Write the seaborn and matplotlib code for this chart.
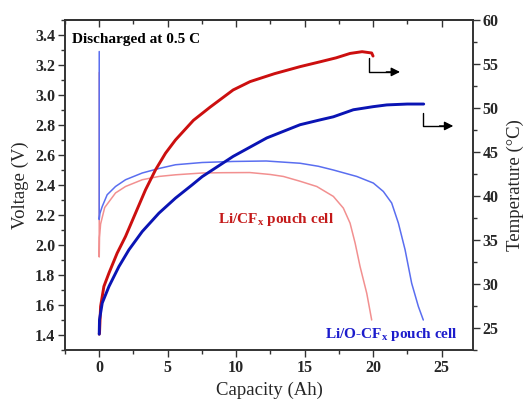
import matplotlib
matplotlib.use("Agg")
import matplotlib.pyplot as plt
import seaborn as sns
from matplotlib.ticker import MultipleLocator

# ---------------- data ----------------
# Voltage profiles (left axis)
cap_cfx_v = [0, 0, 0.02, 0.1, 0.4, 1.19, 1.92, 3.14, 4.36, 5.57, 7.52, 9.0, 11.0, 12.5, 13.45,
             14.67, 15.89, 17.1, 17.83, 18.32, 18.69, 19.05, 19.54, 19.9]
volt_cfx = [3.15, 1.92, 2.05, 2.14, 2.25, 2.347, 2.39, 2.435, 2.457, 2.468, 2.48, 2.482, 2.483, 2.47, 2.457,
            2.425, 2.39, 2.324, 2.246, 2.146, 2.013, 1.857, 1.678, 1.50]

cap_ocfx_v = [0, 0, 0.05, 0.22, 0.58, 1.19, 1.92, 3.14, 4.36, 5.57, 7.52, 9.8, 12.2, 14.67, 16.0,
              17.1, 18.81, 20.02, 20.75, 21.36, 21.85, 22.34, 22.82, 23.31, 23.67]
volt_ocfx = [3.29, 2.17, 2.21, 2.257, 2.335, 2.39, 2.435, 2.48, 2.51, 2.535, 2.55, 2.557, 2.56, 2.545, 2.525,
             2.50, 2.457, 2.413, 2.357, 2.28, 2.146, 1.968, 1.745, 1.59, 1.50]

# Temperature profiles (right axis)
cap_cfx_t = [0, 0.02, 0.1, 0.34, 0.71, 1.31, 1.92, 2.65, 3.38, 4.11, 4.84, 5.57, 6.88, 8.1, 9.78,
             11.02, 12.8, 14.67, 16.13, 17.3, 18.32, 19.2, 19.9, 20.0]
temp_cfx = [24.3, 24.43, 27.45, 29.72, 31.24, 33.51, 35.40, 38.05, 40.70, 42.97, 44.86, 46.37, 48.6, 50.1, 52.05,
            53.0, 53.9, 54.7, 55.25, 55.7, 56.2, 56.4, 56.25, 55.9]

cap_ocfx_t = [0, 0.02, 0.22, 0.71, 1.44, 2.17, 3.14, 4.36, 5.57, 6.79, 7.52, 9.78, 12.24, 14.67, 16.13,
              17.1, 18.56, 20.0, 21.0, 22.5, 23.7]
temp_ocfx = [24.3, 25.94, 27.84, 29.72, 31.99, 33.89, 35.96, 38.05, 39.76, 41.27, 42.2, 44.5, 46.6, 48.1, 48.65,
             49.0, 49.8, 50.15, 50.35, 50.45, 50.45]

x_ticks = [0, 5, 10, 15, 20, 25]
v_ticks = [1.4, 1.6, 1.8, 2.0, 2.2, 2.4, 2.6, 2.8, 3.0, 3.2, 3.4]
t_ticks = [25, 30, 35, 40, 45, 50, 55, 60]

# ---------------- style ----------------
sns.set_style("ticks")
plt.rcParams["font.family"] = ["Liberation Serif", "DejaVu Serif"]
plt.rcParams["mathtext.fontset"] = "custom"
plt.rcParams["mathtext.rm"] = "Liberation Serif"
plt.rcParams["mathtext.bf"] = "Liberation Serif:bold"
plt.rcParams["mathtext.it"] = "Liberation Serif:italic"

fig = plt.figure(figsize=(5.31, 3.99), dpi=100)
ax = fig.add_axes([65 / 531, 49 / 399, 408 / 531, 330 / 399])
ax2 = ax.twinx()

c_red_thin = "#f29090"
c_blue_thin = "#5a6ef0"
c_red = "#cc0f0f"
c_blue = "#0a14b4"

sns.lineplot(x=cap_cfx_v, y=volt_cfx, ax=ax, sort=False, estimator=None,
             color=c_red_thin, linewidth=1.1)
sns.lineplot(x=cap_ocfx_v, y=volt_ocfx, ax=ax, sort=False, estimator=None,
             color=c_blue_thin, linewidth=1.1)
sns.lineplot(x=cap_cfx_t, y=temp_cfx, ax=ax2, sort=False, estimator=None,
             color=c_red, linewidth=2.1)
sns.lineplot(x=cap_ocfx_t, y=temp_ocfx, ax=ax2, sort=False, estimator=None,
             color=c_blue, linewidth=2.1)
for line in ax.get_lines() + ax2.get_lines():
    line.set_solid_joinstyle("round")
    line.set_solid_capstyle("round")

ax.set_xlim(-2.5, 27.3)
ax.set_ylim(1.3, 3.5)
ax2.set_ylim(22.5, 60)

ax.set_xticks(x_ticks)
ax.set_yticks(v_ticks)
ax2.set_yticks(t_ticks)
ax.xaxis.set_minor_locator(MultipleLocator(2.5))
ax.yaxis.set_minor_locator(MultipleLocator(0.1))
ax2.yaxis.set_minor_locator(MultipleLocator(2.5))

ax.set_xticklabels([str(v) for v in x_ticks])
ax.set_yticklabels([f"{v:.1f}" for v in v_ticks])
ax2.set_yticklabels([str(v) for v in t_ticks])

spine_c = "#333333"
for a in (ax, ax2):
    for s in a.spines.values():
        s.set_visible(True)
        s.set_color(spine_c)
        s.set_linewidth(1.2)

ax.tick_params(axis="both", which="major", length=5, width=1.0, color=spine_c,
               labelsize=11.5, pad=2, direction="out")
ax.tick_params(axis="both", which="minor", length=3, width=1.0, color=spine_c,
               direction="out")
ax2.tick_params(axis="y", which="major", length=5, width=1.0, color=spine_c,
                labelsize=11.5, pad=2, direction="out")
ax2.tick_params(axis="y", which="minor", length=3, width=1.0, color=spine_c,
                direction="out")
# top ticks inward
secx = ax.secondary_xaxis("top")
secx.set_xticks(x_ticks)
secx.xaxis.set_minor_locator(MultipleLocator(2.5))
secx.tick_params(which="major", direction="in", length=5, width=1.0, color=spine_c, labeltop=False)
secx.tick_params(which="minor", direction="in", length=3, width=1.0, color=spine_c)
secx.set_xticklabels([])
secx.spines["top"].set_color(spine_c)
secx.spines["top"].set_linewidth(1.2)
ax.tick_params(axis="x", which="both", top=False)

for lab in ax.get_xticklabels() + ax.get_yticklabels() + ax2.get_yticklabels():
    lab.set_fontweight("bold")

ax.set_xlabel("Capacity (Ah)", fontsize=13.5, labelpad=4)
ax.set_ylabel("Voltage (V)", fontsize=13.5, labelpad=4)
ax2.set_ylabel("Temperature (\u00b0C)", fontsize=13.5, labelpad=6)

ax.text(0.016, 0.9415, "Discharged at 0.5 C", transform=ax.transAxes,
        fontsize=11, fontweight="bold", ha="left", va="center", color="black")
ax.text(0.376, 0.394, r"Li/CF$_{\mathbf{x}}$ pouch cell", transform=ax.transAxes,
        fontsize=11, fontweight="bold", ha="left", va="center", color="#c41a1a")
ax.text(0.637, 0.0455, r"Li/O-CF$_{\mathbf{x}}$ pouch cell", transform=ax.transAxes,
        fontsize=11, fontweight="bold", ha="left", va="center", color="#1c1ccc")

# L-shaped arrows pointing to the temperature axis
for (x0, y0, y1, x1) in [(19.7, 55.65, 54.1, 21.97), (23.67, 49.4, 47.96, 25.86)]:
    ax2.plot([x0, x0, x1 - 0.5], [y0, y1, y1], color="black", linewidth=1.0)
    ax2.annotate("", xy=(x1, y1), xytext=(x1 - 1.0, y1),
                 arrowprops=dict(arrowstyle="-|>", color="black", lw=1.0,
                                 mutation_scale=13, shrinkA=0, shrinkB=0))

fig.savefig("out.png", dpi=100)
